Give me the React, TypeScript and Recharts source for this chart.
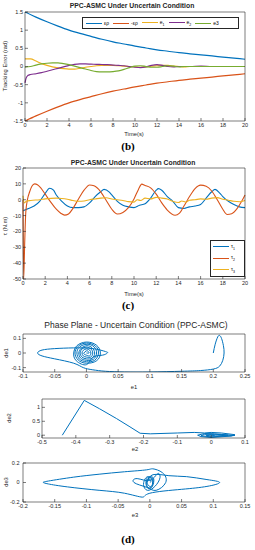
import React from "react";
import { LineChart, Line, XAxis, YAxis } from "recharts";

const FONT = "'Liberation Sans', Arial, Helvetica, sans-serif";
const SERIF = "'Liberation Serif', 'Times New Roman', serif";
const AXIS = "#262626";
const BLUE = "#0072BD";
const ORANGE = "#D95319";
const YELLOW = "#EDB120";
const PURPLE = "#7E2F8E";
const GREEN = "#77AC30";

// ---- (b) tracking error ----
const TIME_TICKS = [0, 2, 4, 6, 8, 10, 12, 14, 16, 18, 20];
const ERR_TICKS = [-1.5, -1, -0.5, 0, 0.5, 1, 1.5];

const TIME_BOUND = [0, 1, 2, 3, 4, 5, 6, 7, 8, 9, 10, 11, 12, 13, 14, 15, 16, 17, 18, 19, 20];
const EPS_RHO = [1.5, 1.36, 1.23, 1.11, 1.0, 0.91, 0.83, 0.75, 0.68, 0.62, 0.56, 0.51, 0.46, 0.42, 0.38, 0.35, 0.32, 0.29, 0.26, 0.23, 0.2];
const NEG_EPS_RHO = [-1.5, -1.36, -1.23, -1.11, -1.0, -0.91, -0.83, -0.75, -0.68, -0.62, -0.56, -0.51, -0.46, -0.42, -0.38, -0.35, -0.32, -0.29, -0.26, -0.23, -0.2];

const TIME_E = [0, 0.5, 1, 1.5, 2, 2.5, 3, 3.5, 4, 4.5, 5, 5.5, 6, 6.5, 7, 7.5, 8, 8.5, 9, 9.5, 10, 10.5, 11, 11.5, 12, 12.5, 13, 13.5, 14, 14.5, 15, 16, 17, 18, 19, 20];
const E1 = [0.21, 0.21, 0.15, 0.08, 0.03, -0.01, -0.04, -0.06, -0.07, -0.07, -0.05, -0.02, 0.0, 0.02, 0.03, 0.03, 0.03, 0.02, 0.01, 0.0, -0.01, -0.02, -0.01, 0.01, 0.02, 0.03, 0.03, 0.01, 0.0, -0.01, 0.0, 0.0, 0.0, 0.0, 0.0, 0.0];
const E3 = [-0.02, 0.0, 0.04, 0.07, 0.09, 0.1, 0.1, 0.08, 0.05, 0.01, -0.03, -0.07, -0.11, -0.14, -0.15, -0.15, -0.14, -0.12, -0.08, -0.03, 0.01, 0.02, 0.0, -0.02, -0.02, 0.0, 0.02, 0.01, -0.01, 0.0, 0.0, 0.0, 0.0, 0.0, 0.0, 0.0];
const TIME_E2 = [0, 0.1, 0.25, 0.5, 1, 1.5, 2, 2.5, 3, 3.5, 4, 4.5, 5, 5.5, 6, 6.5, 7, 7.5, 8, 8.5, 9, 9.5, 10, 10.5, 11, 11.5, 12, 12.5, 13, 13.5, 14, 15, 16, 17, 18, 19, 20];
const E2 = [-0.45, -0.32, -0.25, -0.22, -0.2, -0.17, -0.13, -0.09, -0.05, -0.01, 0.03, 0.06, 0.07, 0.07, 0.065, 0.06, 0.055, 0.05, 0.04, 0.03, 0.02, 0.0, -0.02, -0.03, -0.01, 0.03, 0.05, 0.03, 0.0, -0.01, 0.0, 0.0, 0.01, 0.0, 0.0, 0.0, 0.0];

// ---- (c) control torque ----
const TAU_TICKS = [-50, -40, -30, -20, -10, 0, 10, 20];
const TIME_TAU1 = [0, 0.5, 1, 1.5, 2, 2.4, 2.75, 3, 3.5, 4, 4.5, 5, 5.5, 6, 6.5, 7, 7.3, 7.75, 8, 8.5, 9, 9.5, 10, 10.5, 11, 11.5, 12, 12.2, 12.5, 13, 13.5, 14, 14.5, 15, 15.5, 16, 16.5, 17, 17.3, 17.75, 18, 18.5, 19, 19.5, 20];
const TAU1 = [-7, -5.5, -4, -1, 4, 7.2, 6, 3, -1, -4, -5, -5, -4.5, -2, 2, 5, 6.5, 5, 3, -1, -3.5, -4.5, -5, -3.5, -2.5, 1, 6, 7, 6, 2, -1, -5, -5.5, -4.5, -4, -3, 1, 5, 6.5, 4, 2, -1, -3, -4.5, -5];
const TIME_TAU2 = [0, 0.06, 0.15, 0.25, 0.4, 0.6, 0.8, 1.05, 1.3, 1.6, 2, 2.5, 3, 3.4, 3.75, 4.1, 4.5, 5, 5.5, 6, 6.4, 7, 7.5, 8, 8.5, 9, 9.5, 10, 10.4, 10.7, 11, 11.5, 12, 12.5, 13, 13.7, 14.1, 14.5, 15, 15.5, 16, 16.5, 17, 17.5, 18, 18.4, 18.8, 19.3, 19.7, 20];
const TAU2 = [0, -50, -28, -8, 0, 5, 8.5, 10, 9.5, 7.5, 3.5, -1.5, -6, -8.5, -9.7, -9, -5.5, 0.5, 6, 9.3, 8.8, 5, -0.5, -6, -9, -8, -5, 0.5, 6.5, 9.8, 9, 7.5, 3.5, -2, -6.5, -9.8, -8.5, -4, 2, 7, 9.2, 8.5, 5.5, 0, -6, -9.3, -8.8, -5.5, -1, 3];
const TIME_TAU3 = [0, 0.1, 0.3, 0.7, 1.5, 2, 3, 3.5, 4, 4.5, 5, 5.5, 6, 6.5, 7, 7.5, 8, 8.5, 9, 9.5, 10, 10.3, 10.6, 11, 11.5, 12, 12.5, 13, 13.5, 14, 14.3, 14.7, 15, 15.5, 16, 16.5, 17, 17.5, 18, 18.5, 19, 19.5, 20];
const TAU3 = [2.5, -2, -1, -0.5, 0, 0.5, 1, 0.8, 0.3, -0.5, -1, -0.8, 0, 0.5, 1, 1.2, 0.5, 0, -0.5, -1.2, -1.5, 0, -0.5, 1, 0.5, 1.5, 1, 0.5, -1, -1.8, -0.8, -1.5, -0.3, 0, 0.5, 0.3, 1, 1.3, 0.3, -0.3, -1, -1.3, -0.5];

// ---- (d) phase planes ----
const E1_TICKS = [-0.1, -0.05, 0, 0.05, 0.1, 0.15, 0.2, 0.25];
const DE1_TICKS = [-0.1, 0, 0.1];
const PH1_E = [0.2, 0.203, 0.207, 0.21, 0.213, 0.216, 0.217, 0.215, 0.21, 0.2, 0.18, 0.15, 0.1, 0.06, 0.03, 0.01, -0.005, -0.02, -0.05, -0.07, -0.077, -0.07, -0.05, -0.02, 0.01, 0.03, 0.033, 0.025, 0.01, 0.0,
  -0.016, -0.02, -0.015, 0.0, 0.016, 0.022, 0.016, 0.0,
  -0.013, -0.018, -0.013, 0.0, 0.014, 0.019, 0.013, 0.0,
  -0.011, -0.015, -0.011, 0.001, 0.012, 0.016, 0.011, 0.0,
  -0.009, -0.012, -0.008, 0.001, 0.009, 0.013, 0.009, 0.0,
  -0.007, -0.01, -0.007, 0.0, 0.007, 0.01, 0.007, 0.0,
  -0.005, -0.007, -0.005, 0.0, 0.005, 0.007, 0.005, 0.0,
  -0.003, -0.004, 0.0, 0.003, 0.004, 0.0];
const PH1_DE = [0.0, 0.06, 0.11, 0.12, 0.1, 0.05, 0.0, -0.05, -0.09, -0.11, -0.12, -0.125, -0.13, -0.13, -0.125, -0.115, -0.1, -0.07, -0.04, -0.02, 0.0, 0.02, 0.03, 0.035, 0.03, 0.01, 0.0, -0.015, -0.03, -0.08,
  -0.053, 0.0, 0.05, 0.075, 0.053, 0.0, -0.053, -0.07,
  -0.048, 0.0, 0.046, 0.068, 0.048, 0.0, -0.05, -0.06,
  -0.042, 0.0, 0.04, 0.06, 0.042, 0.0, -0.043, -0.05,
  -0.035, 0.0, 0.033, 0.05, 0.035, 0.0, -0.035, -0.04,
  -0.028, 0.0, 0.027, 0.04, 0.028, 0.0, -0.028, -0.028,
  -0.02, 0.0, 0.018, 0.028, 0.02, 0.0, -0.02, -0.015,
  -0.01, 0.0, 0.015, 0.01, 0.0, 0.0];

const E2_TICKS = [-0.5, -0.4, -0.3, -0.2, -0.1, 0, 0.1];
const DE2_TICKS = [0, 0.5, 1];
const PH2_E = [-0.44, -0.375, -0.33, -0.28, -0.24, -0.21, -0.18, -0.1, -0.05, -0.02, 0.0, 0.03, 0.07, 0.06, 0.0, -0.03, -0.04, -0.02, 0.01, 0.05, 0.07, 0.04, 0.0, -0.03, -0.02, 0.0, 0.03, 0.05, 0.02, 0.0, -0.015, 0.0, 0.01, 0.0];
const PH2_DE = [0.0, 1.25, 0.95, 0.6, 0.3, 0.07, 0.05, 0.08, 0.1, 0.08, 0.1, 0.08, 0.02, -0.03, -0.08, -0.05, 0.0, 0.06, 0.05, 0.01, -0.01, -0.03, -0.06, -0.02, 0.03, 0.04, 0.02, 0.0, -0.02, -0.03, 0.0, 0.02, 0.0, 0.0];

const E3_TICKS = [-0.2, -0.15, -0.1, -0.05, 0, 0.05, 0.1, 0.15];
const DE3_TICKS = [-0.2, 0, 0.2];
const PH3_E = [-0.005, 0.005, 0.03, 0.058, 0.09, 0.11, 0.09, 0.05, 0.0, -0.012, -0.04, -0.08, -0.13, -0.16, -0.168, -0.16, -0.12, -0.08, -0.04, -0.005, 0.005, 0.02, 0.025, 0.01, -0.005, -0.025, -0.02, 0.0,
  0.012, 0.016, 0.008, -0.004, -0.01, -0.006, 0.0, 0.006, 0.004, -0.002, -0.006, -0.005, 0.0, 0.005, 0.003, -0.003, -0.005, -0.002, 0.003, 0.004, 0.0, -0.004, -0.003, 0.002, 0.0];
const PH3_DE = [0.0, 0.08, 0.07, 0.06, 0.03, 0.0, -0.04, -0.07, -0.11, -0.15, -0.11, -0.08, -0.045, -0.015, 0.0, 0.015, 0.055, 0.085, 0.11, 0.13, 0.14, 0.1, 0.0, -0.08, -0.05, 0.0, 0.04, 0.02,
  0.09, 0.05, -0.04, -0.08, -0.02, 0.05, 0.06, 0.04, -0.04, -0.06, -0.02, 0.04, 0.05, 0.03, -0.04, -0.05, 0.0, 0.04, 0.04, -0.02, -0.04, -0.01, 0.03, 0.02, 0.0];

const zip = (xs: number[], ys: number[]) => xs.map((x, i) => ({ x, y: ys[i] }));

const tickStyle = { fontSize: 5.5, fill: AXIS, fontFamily: FONT };

function Txt({ x, y, size, children, bold, rotate, family }: any) {
  return (
    <div
      style={{
        position: "absolute",
        left: x,
        top: y,
        transform: `translate(-50%, -50%)${rotate ? " rotate(-90deg)" : ""}`,
        fontSize: size,
        fontWeight: bold ? "bold" : "normal",
        fontFamily: family || FONT,
        color: family ? "#000" : AXIS,
        whiteSpace: "nowrap",
        lineHeight: 1,
      }}
    >
      {children}
    </div>
  );
}

function LegendLine({ color }: { color: string }) {
  return <span style={{ display: "inline-block", width: 16, height: 0, borderTop: `1.3px solid ${color}`, verticalAlign: "middle", marginRight: 2 }} />;
}

function Panel({ top, height, yWidth, yTickMargin = 5, xDomain, xTicks, yDomain, yTicks, children }: any) {
  return (
    <div style={{ position: "absolute", left: 0, top }}>
      <LineChart width={255} height={height} margin={{ top: 7, right: 9, bottom: 0, left: 0 }} style={{ fontFamily: FONT }}>
        <XAxis
          dataKey="x"
          type="number"
          domain={xDomain}
          ticks={xTicks}
          allowDataOverflow
          height={11}
          tick={tickStyle}
          tickSize={-3}
          tickMargin={5}
          interval={0}
          stroke={AXIS}
          strokeWidth={0.6}
        />
        <XAxis xAxisId="top" orientation="top" type="number" domain={xDomain} ticks={xTicks} allowDataOverflow height={1} tick={false} tickSize={-3} stroke={AXIS} strokeWidth={0.6} />
        <YAxis
          type="number"
          domain={yDomain}
          ticks={yTicks}
          allowDataOverflow
          width={yWidth}
          tick={tickStyle}
          tickSize={-3}
          tickMargin={yTickMargin}
          interval={0}
          stroke={AXIS}
          strokeWidth={0.6}
        />
        <YAxis yAxisId="right" orientation="right" type="number" domain={yDomain} ticks={yTicks} allowDataOverflow width={1} tick={false} tickSize={-3} stroke={AXIS} strokeWidth={0.6} />
        {children}
      </LineChart>
    </div>
  );
}

function series(data: any[], color: string, type: any = "monotone", width = 1.2) {
  return (
    <Line
      data={data}
      dataKey="y"
      type={type}
      stroke={color}
      strokeWidth={width}
      dot={false}
      activeDot={false}
      isAnimationActive={false}
    />
  );
}

export default function App() {
  return (
    <div style={{ position: "absolute", left: 0, top: 0, width: 255, height: 550, background: "#fff", overflow: "hidden" }}>
      {/* (b) */}
      <div style={{ position: "absolute", left: 0, top: 0 }}>
        <LineChart width={255} height={132} margin={{ top: 11, right: 9, bottom: 0, left: 0 }} style={{ fontFamily: FONT }}>
          <XAxis dataKey="x" type="number" domain={[0, 20]} ticks={TIME_TICKS} height={11} tick={tickStyle} tickSize={-3} tickMargin={5} interval={0} stroke={AXIS} strokeWidth={0.6} />
          <XAxis xAxisId="top" orientation="top" type="number" domain={[0, 20]} ticks={TIME_TICKS} height={1} tick={false} tickSize={-3} stroke={AXIS} strokeWidth={0.6} />
          <YAxis type="number" domain={[-1.5, 1.5]} ticks={ERR_TICKS} allowDataOverflow width={25} tick={tickStyle} tickSize={-3} tickMargin={5} interval={0} stroke={AXIS} strokeWidth={0.6} />
          <YAxis yAxisId="right" orientation="right" type="number" domain={[-1.5, 1.5]} ticks={ERR_TICKS} width={1} tick={false} tickSize={-3} stroke={AXIS} strokeWidth={0.6} />
          {series(zip(TIME_BOUND, EPS_RHO), BLUE)}
          {series(zip(TIME_BOUND, NEG_EPS_RHO), ORANGE)}
          {series(zip(TIME_E, E1), YELLOW)}
          {series(zip(TIME_E2, E2), PURPLE)}
          {series(zip(TIME_E, E3), GREEN)}
        </LineChart>
      </div>
      <Txt x={132} y={6} size={6.8} bold>PPC-ASMC Under Uncertain Condition</Txt>
      <Txt x={6} y={66} size={5.8} rotate>Tracking Error (rad)</Txt>
      <div style={{ position: "absolute", left: 82, top: 17, width: 157, height: 12, border: `0.6px solid ${AXIS}`, background: "#fff", display: "flex", alignItems: "center", fontSize: 5, fontFamily: FONT, color: "#000", paddingLeft: 3, boxSizing: "border-box", gap: 4 }}>
        <span><LegendLine color={BLUE} />ερ</span>
        <span><LegendLine color={ORANGE} />-ερ</span>
        <span><LegendLine color={YELLOW} />e<sub style={{ fontSize: 3.5 }}>1</sub></span>
        <span><LegendLine color={PURPLE} />e<sub style={{ fontSize: 3.5 }}>2</sub></span>
        <span><LegendLine color={GREEN} />e3</span>
      </div>
      <Txt x={134} y={135} size={5.8}>Time(s)</Txt>
      <Txt x={128} y={146} size={11} bold family={SERIF}>(b)</Txt>

      {/* (c) */}
      <div style={{ position: "absolute", left: 0, top: 160 }}>
        <LineChart width={255} height={130} margin={{ top: 7, right: 9, bottom: 0, left: 0 }} style={{ fontFamily: FONT }}>
          <XAxis dataKey="x" type="number" domain={[0, 20]} ticks={TIME_TICKS} height={11} tick={tickStyle} tickSize={-3} tickMargin={5} interval={0} stroke={AXIS} strokeWidth={0.6} />
          <XAxis xAxisId="top" orientation="top" type="number" domain={[0, 20]} ticks={TIME_TICKS} height={1} tick={false} tickSize={-3} stroke={AXIS} strokeWidth={0.6} />
          <YAxis type="number" domain={[-50, 20]} ticks={TAU_TICKS} allowDataOverflow width={23} tick={tickStyle} tickSize={-3} tickMargin={5} interval={0} stroke={AXIS} strokeWidth={0.6} />
          <YAxis yAxisId="right" orientation="right" type="number" domain={[-50, 20]} ticks={TAU_TICKS} width={1} tick={false} tickSize={-3} stroke={AXIS} strokeWidth={0.6} />
          {series(zip(TIME_TAU1, TAU1), BLUE, "monotone", 1.1)}
          {series(zip(TIME_TAU2, TAU2), ORANGE, "monotone", 1.1)}
          {series(zip(TIME_TAU3, TAU3), YELLOW, "monotone", 1.1)}
        </LineChart>
      </div>
      <Txt x={133} y={163} size={6.8} bold>PPC-ASMC Under Uncertain Condition</Txt>
      <Txt x={6} y={226} size={5.8} rotate>τ (N.m)</Txt>
      <div style={{ position: "absolute", left: 210, top: 240, width: 35, height: 37, border: `0.6px solid ${AXIS}`, background: "#fff", display: "flex", flexDirection: "column", justifyContent: "space-around", fontSize: 5, fontFamily: FONT, color: "#000", paddingLeft: 2, boxSizing: "border-box" }}>
        <span><LegendLine color={BLUE} />τ<sub style={{ fontSize: 3.5 }}>1</sub></span>
        <span><LegendLine color={ORANGE} />τ<sub style={{ fontSize: 3.5 }}>2</sub></span>
        <span><LegendLine color={YELLOW} />τ<sub style={{ fontSize: 3.5 }}>3</sub></span>
      </div>
      <Txt x={134} y={295} size={5.8}>Time(s)</Txt>
      <Txt x={128} y={305} size={11} bold family={SERIF}>(c)</Txt>

      {/* (d) */}
      <Txt x={136} y={325} size={8.5}>Phase Plane - Uncertain Condition (PPC-ASMC)</Txt>
      <Panel top={326} height={57} yWidth={23} xDomain={[-0.1, 0.25]} xTicks={E1_TICKS} yDomain={[-0.13, 0.13]} yTicks={DE1_TICKS}>
        {series(zip(PH1_E, PH1_DE), BLUE, "natural", 1)}
      </Panel>
      <Txt x={7} y={353} size={5.8} rotate>de1</Txt>
      <Txt x={134} y={388} size={5.8}>e1</Txt>

      <Panel top={391} height={58} yWidth={42} xDomain={[-0.5, 0.1]} xTicks={E2_TICKS} yDomain={[-0.1, 1.3]} yTicks={DE2_TICKS}>
        {series(zip(PH2_E, PH2_DE), BLUE, "linear", 1)}
      </Panel>
      <Txt x={10} y={418} size={5.8} rotate>de2</Txt>
      <Txt x={135} y={450} size={5.8}>e2</Txt>

      <Panel top={455} height={58} yWidth={23} yTickMargin={6.5} xDomain={[-0.2, 0.15]} xTicks={E3_TICKS} yDomain={[-0.2, 0.2]} yTicks={DE3_TICKS}>
        {series(zip(PH3_E, PH3_DE), BLUE, "natural", 1)}
      </Panel>
      <Txt x={7} y={482} size={5.8} rotate>de3</Txt>
      <Txt x={135} y={516} size={5.8}>e3</Txt>
      <Txt x={128} y={539} size={11} bold family={SERIF}>(d)</Txt>
    </div>
  );
}
